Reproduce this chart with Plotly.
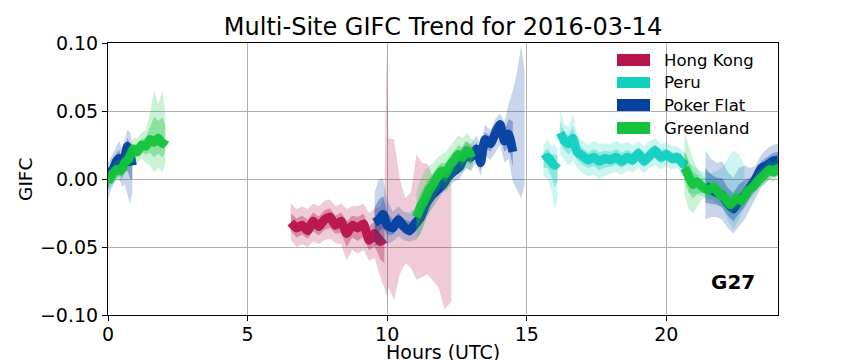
import plotly.graph_objects as go

# ---------------- data ----------------
sites = ["Hong Kong", "Peru", "Poker Flat", "Greenland"]

# Hong Kong
hk_hours = [6.55, 6.75, 6.95, 7.15, 7.35, 7.55, 7.75, 7.95, 8.15, 8.35, 8.55, 8.75, 8.95, 9.15, 9.35, 9.55, 9.75, 9.9,
            9.98, 10.05, 10.25, 10.45, 10.65, 10.85, 11.05, 11.25, 11.45, 11.65, 11.85, 12.05, 12.3]
hk_mid = [-0.032, -0.036, -0.034, -0.038, -0.031, -0.035, -0.030, -0.028, -0.034, -0.031, -0.040, -0.034, -0.036,
          -0.033, -0.045, -0.040, -0.046, -0.044,
          None, None, None, None, None, None, None, None, None, None, None, None, None]
hk_low = [-0.045, -0.050, -0.048, -0.050, -0.046, -0.048, -0.045, -0.044, -0.047, -0.048, -0.060, -0.052, -0.055,
          -0.052, -0.060, -0.058, -0.072, -0.080, -0.087, -0.080, -0.089, -0.070, -0.062, -0.065, -0.074, -0.072,
          -0.070, -0.075, -0.080, -0.096, -0.090]
hk_high = [-0.018, -0.022, -0.020, -0.022, -0.018, -0.020, -0.016, -0.015, -0.020, -0.018, -0.022, -0.020, -0.020,
           -0.018, -0.025, -0.022, -0.020, -0.012, 0.093, 0.030, 0.029, 0.000, -0.014, -0.010, 0.018, 0.012, 0.011,
           0.000, -0.010, 0.006, -0.005]

# Peru (three pieces)
pe1_hours = [15.6, 15.75, 15.9, 16.0, 16.1]
pe1_mid = [0.014, 0.016, 0.012, 0.010, 0.012]
pe1_low = [0.002, 0.000, -0.010, -0.022, -0.015]
pe1_high = [0.025, 0.029, 0.024, 0.026, 0.022]

pe2_hours = [16.2, 16.35, 16.5, 16.65, 16.8, 17.0, 17.2, 17.4, 17.6, 17.8, 18.0, 18.2, 18.4, 18.6, 18.8, 19.0, 19.2,
             19.4, 19.6, 19.8, 20.0, 20.2, 20.4, 20.6, 20.75]
pe2_mid = [0.034, 0.028, 0.026, 0.030, 0.020, 0.017, 0.014, 0.016, 0.013, 0.015, 0.014, 0.016, 0.013, 0.016, 0.014,
           0.019, 0.013, 0.017, 0.021, 0.016, 0.018, 0.015, 0.016, 0.011, 0.010]
pe2_low = [0.018, 0.014, 0.010, 0.014, 0.008, 0.004, 0.002, 0.003, 0.000, 0.002, 0.004, 0.005, 0.003, 0.006, 0.005,
           0.008, 0.004, 0.008, 0.010, 0.007, 0.009, 0.007, 0.008, 0.002, -0.002]
pe2_high = [0.051, 0.040, 0.038, 0.048, 0.032, 0.028, 0.025, 0.028, 0.026, 0.026, 0.026, 0.028, 0.026, 0.027, 0.025,
            0.028, 0.024, 0.028, 0.030, 0.026, 0.027, 0.024, 0.024, 0.020, 0.018]

pe3_hours = [20.8, 21.2, 21.6, 22.0, 22.2, 22.4, 22.6, 22.8]
pe3_mid = [None, None, None, None, None, None, None, None]
pe3_low = [-0.010, -0.012, -0.015, -0.020, -0.030, -0.037, -0.030, -0.020]
pe3_high = [0.012, 0.006, 0.004, 0.008, 0.015, 0.021, 0.018, 0.010]

# Poker Flat (three pieces)
pf1_hours = [0.0, 0.1, 0.2, 0.3, 0.4, 0.5, 0.6, 0.7, 0.8, 0.87]
pf1_mid = [0.000, 0.005, 0.008, 0.013, 0.015, 0.008, 0.016, 0.024, 0.018, 0.010]
pf1_low = [-0.015, -0.008, -0.004, 0.000, 0.002, -0.006, -0.004, -0.012, -0.018, -0.010]
pf1_high = [0.012, 0.016, 0.020, 0.025, 0.028, 0.022, 0.030, 0.036, 0.034, 0.025]

pf2_hours = [9.55, 9.7, 9.85, 10.0, 10.2, 10.4, 10.6, 10.8, 11.0, 11.2, 11.4, 11.6, 11.8, 12.0, 12.2, 12.4, 12.6,
             12.8, 13.0, 13.2, 13.35, 13.5, 13.7, 13.9, 14.05, 14.2, 14.35, 14.5, 14.65, 14.8, 14.92]
pf2_mid = [-0.032, -0.030, -0.026, -0.034, -0.036, -0.030, -0.035, -0.038, -0.033, -0.028, -0.018, -0.012, -0.008,
           -0.004, 0.002, 0.006, 0.009, 0.018, 0.016, 0.022, 0.012, 0.029, 0.026, 0.035, 0.040, 0.028, 0.033, 0.020,
           None, None, None]
pf2_low = [-0.050, -0.048, -0.045, -0.048, -0.046, -0.042, -0.045, -0.046, -0.045, -0.040, -0.028, -0.022, -0.016,
           -0.010, -0.006, -0.002, 0.000, 0.008, 0.006, 0.012, 0.002, 0.018, 0.014, 0.020, 0.025, 0.012, 0.015,
           -0.002, -0.008, -0.014, -0.005]
pf2_high = [-0.010, 0.000, 0.001, -0.015, -0.024, -0.020, -0.024, -0.025, -0.022, -0.016, -0.008, -0.002, 0.002,
            0.006, 0.010, 0.016, 0.020, 0.028, 0.026, 0.032, 0.024, 0.040, 0.036, 0.045, 0.048, 0.042, 0.055, 0.065,
            0.078, 0.098, 0.080]

pf3_hours = [21.4, 21.6, 21.8, 22.0, 22.2, 22.4, 22.6, 22.8, 23.0, 23.2, 23.4, 23.6, 23.8, 24.0]
pf3_mid = [-0.005, -0.008, -0.010, -0.012, -0.018, -0.022, -0.016, -0.012, -0.006, 0.000, 0.008, 0.010, 0.013, 0.014]
pf3_low = [-0.030, -0.028, -0.028, -0.030, -0.036, -0.040, -0.035, -0.030, -0.022, -0.014, -0.006, -0.002, 0.002,
           0.002]
pf3_high = [0.021, 0.015, 0.012, 0.013, 0.005, 0.001, 0.008, 0.010, 0.008, 0.010, 0.018, 0.022, 0.025, 0.026]

# Greenland (three pieces)
gl1_hours = [0.0, 0.15, 0.3, 0.45, 0.6, 0.75, 0.9, 1.05, 1.2, 1.35, 1.5, 1.65, 1.8, 1.95, 2.05]
gl1_mid = [-0.002, 0.003, 0.007, 0.006, 0.012, 0.015, 0.022, 0.020, 0.025, 0.024, 0.029, 0.027, 0.030, 0.026, 0.029]
gl1_low = [-0.008, -0.004, -0.001, -0.002, 0.004, 0.006, 0.012, 0.012, 0.015, 0.012, 0.010, 0.005, 0.008, 0.005,
           0.012]
gl1_high = [0.005, 0.010, 0.014, 0.014, 0.020, 0.024, 0.030, 0.030, 0.034, 0.036, 0.048, 0.065, 0.055, 0.065, 0.050]

gl2_hours = [11.05, 11.2, 11.35, 11.5, 11.65, 11.8, 11.95, 12.1, 12.25, 12.4, 12.55, 12.7, 12.85, 13.0, 13.1]
gl2_mid = [-0.028, -0.020, -0.015, -0.008, -0.004, 0.002, 0.006, 0.004, 0.010, 0.014, 0.018, 0.016, 0.021, 0.019,
           0.020]
gl2_low = [-0.045, -0.040, -0.032, -0.025, -0.018, -0.010, -0.006, -0.010, -0.004, 0.002, 0.006, 0.004, 0.008, 0.006,
           0.012]
gl2_high = [-0.010, 0.000, 0.006, 0.010, 0.012, 0.016, 0.018, 0.020, 0.024, 0.028, 0.032, 0.030, 0.034, 0.030, 0.028]

gl3_hours = [20.65, 20.8, 20.95, 21.1, 21.3, 21.5, 21.7, 21.9, 22.1, 22.3, 22.5, 22.7, 22.9, 23.1, 23.3, 23.5, 23.7,
             23.85, 24.0]
gl3_mid = [0.008, 0.002, -0.004, -0.002, -0.006, -0.008, -0.006, -0.011, -0.014, -0.019, -0.014, -0.016, -0.009,
           -0.006, -0.001, 0.003, 0.007, 0.005, 0.009]
gl3_low = [-0.012, -0.022, -0.025, -0.020, -0.014, -0.015, -0.013, -0.018, -0.021, -0.026, -0.022, -0.022, -0.016,
           -0.013, -0.007, -0.004, 0.000, -0.002, 0.003]
gl3_high = [0.034, 0.025, 0.015, 0.008, 0.002, 0.000, 0.001, -0.004, -0.007, -0.011, -0.007, -0.009, -0.003, 0.001,
            0.006, 0.010, 0.014, 0.012, 0.016]

# ---------------- style ----------------
colors = {
    "Hong Kong": (184, 19, 74),
    "Peru": (18, 208, 192),
    "Poker Flat": (3, 64, 160),
    "Greenland": (20, 196, 60),
}
FONT = "DejaVu Sans"

pieces = [
    ("Hong Kong", hk_hours, hk_mid, hk_low, hk_high),
    ("Peru", pe1_hours, pe1_mid, pe1_low, pe1_high),
    ("Peru", pe2_hours, pe2_mid, pe2_low, pe2_high),
    ("Peru", pe3_hours, pe3_mid, pe3_low, pe3_high),
    ("Poker Flat", pf1_hours, pf1_mid, pf1_low, pf1_high),
    ("Poker Flat", pf2_hours, pf2_mid, pf2_low, pf2_high),
    ("Poker Flat", pf3_hours, pf3_mid, pf3_low, pf3_high),
    ("Greenland", gl1_hours, gl1_mid, gl1_low, gl1_high),
    ("Greenland", gl2_hours, gl2_mid, gl2_low, gl2_high),
    ("Greenland", gl3_hours, gl3_mid, gl3_low, gl3_high),
]

fig = go.Figure()
for site, hrs, mid, low, high in pieces:
    r, g, b = colors[site]
    # faint outer spread of the points
    fig.add_trace(go.Scatter(
        x=list(hrs) + list(hrs)[::-1],
        y=list(high) + list(low)[::-1],
        fill="toself", mode="lines", line=dict(width=0),
        fillcolor=f"rgba({r},{g},{b},0.22)",
        hoverinfo="skip", showlegend=False,
    ))
    # denser inner half of the spread (where the core exists)
    idx = [i for i, m in enumerate(mid) if m is not None]
    if idx:
        xs = [hrs[i] for i in idx]
        up = [(mid[i] + high[i]) / 2 for i in idx]
        dn = [(mid[i] + low[i]) / 2 for i in idx]
        fig.add_trace(go.Scatter(
            x=xs + xs[::-1], y=up + dn[::-1],
            fill="toself", mode="lines", line=dict(width=0),
            fillcolor=f"rgba({r},{g},{b},0.35)",
            hoverinfo="skip", showlegend=False,
        ))
    # dense core
    fig.add_trace(go.Scatter(
        x=hrs, y=mid, mode="lines",
        line=dict(color=f"rgba({r},{g},{b},0.95)", width=9, shape="spline", smoothing=0.5),
        connectgaps=False, showlegend=False, name=site,
    ))

# manual matplotlib-style legend (no frame)
legend_rows = [(0.9596, 0.9154), (0.875, 0.8346), (0.794, 0.75), (0.7096, 0.6654)]
for site, (y1, y0) in zip(sites, legend_rows):
    r, g, b = colors[site]
    fig.add_shape(type="rect", xref="paper", yref="paper", x0=0.7597, x1=0.809, y0=y0, y1=y1,
                  fillcolor=f"rgb({r},{g},{b})", line=dict(width=0))
    fig.add_annotation(xref="paper", yref="paper", x=0.8269, y=(y0 + y1) / 2, text=site,
                       showarrow=False, xanchor="left", yanchor="middle",
                       font=dict(family=FONT, size=16.5, color="black"))

fig.add_annotation(xref="paper", yref="paper", x=0.933, y=0.121, text="<b>G27</b>", showarrow=False,
                   xanchor="center", yanchor="middle", font=dict(family=FONT, size=20, color="black"))
fig.add_annotation(xref="paper", yref="paper", x=0.5, y=-0.136, text="Hours (UTC)", showarrow=False,
                   xanchor="center", yanchor="middle", font=dict(family=FONT, size=19, color="black"))
fig.add_annotation(xref="paper", yref="paper", x=-0.124, y=0.5, text="GIFC", showarrow=False, textangle=-90,
                   xanchor="center", yanchor="middle", font=dict(family=FONT, size=18.5, color="black"))

# page body has an 8px margin, so the figure is 856x352 placed at (8, 8)
fig.update_layout(
    width=856, height=352,
    margin=dict(l=100, r=86, t=35, b=45),
    paper_bgcolor="white", plot_bgcolor="white",
    font=dict(family=FONT, color="black"),
    title=dict(text="Multi-Site GIFC Trend for 2016-03-14", x=0.5, xref="paper", xanchor="center",
               y=1 - 19 / 352, yanchor="middle", font=dict(family=FONT, size=24, color="black")),
    showlegend=False,
)
fig.update_xaxes(range=[0, 24], tickvals=[0, 5, 10, 15, 20], ticks="outside", ticklen=5, tickcolor="black",
                 ticklabelstandoff=-3,
                 showline=True, linecolor="black", linewidth=1, mirror=True,
                 showgrid=True, gridcolor="#b0b0b0", gridwidth=1, zeroline=False,
                 tickfont=dict(family=FONT, size=19, color="black"))
fig.update_yaxes(range=[-0.1, 0.1], tickvals=[-0.1, -0.05, 0, 0.05, 0.1], tickformat=".2f",
                 ticks="outside", ticklen=5, tickcolor="black",
                 showline=True, linecolor="black", linewidth=1, mirror=True,
                 showgrid=True, gridcolor="#b0b0b0", gridwidth=1, zeroline=False,
                 tickfont=dict(family=FONT, size=19, color="black"))

fig.write_html("out.html")
